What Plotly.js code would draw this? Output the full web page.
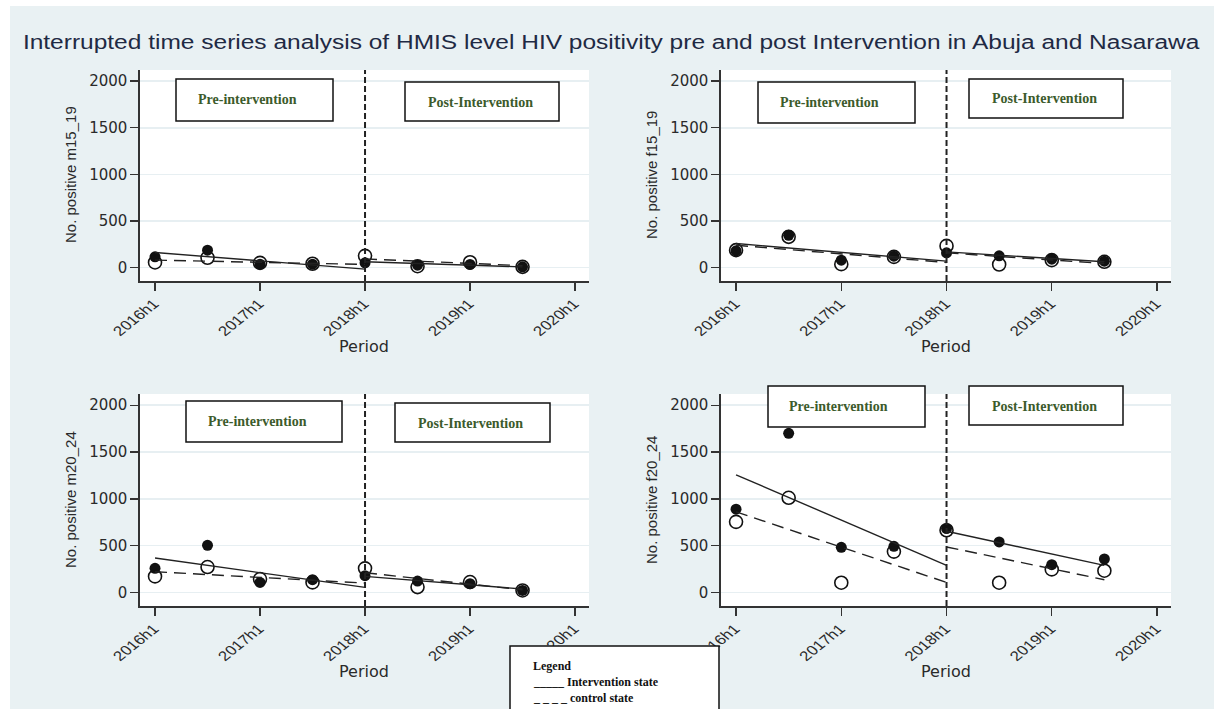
<!DOCTYPE html>
<html><head><meta charset="utf-8">
<script src="https://cdn.plot.ly/plotly-3.0.1.min.js"></script>
<style>html,body{margin:0;padding:0;background:#fff;}#chart{width:1214px;height:709px;}</style>
</head><body><div id="chart"></div>
<script>
// ---------- data ----------
const periods = [2016, 2016.5, 2017, 2017.5, 2018, 2018.5, 2019, 2019.5];
const periodLabels = ['2016h1','2016h2','2017h1','2017h2','2018h1','2018h2','2019h1','2019h2'];
const tickValues = [2016, 2017, 2018, 2019, 2020];
const tickLabels = ['2016h1','2017h1','2018h1','2019h1','2020h1'];
const yTickValues = [0, 500, 1000, 1500, 2000];
const interruptionPeriod = 2018;

const groups = ['m15_19', 'f15_19', 'm20_24', 'f20_24'];

// observed values (filled = intervention state, hollow = control state)
const m15_19_intervention = [114, 186, 36, 36, 50, 25, 32, 7];
const m15_19_control      = [54, 104, 50, 40, 125, 14, 57, 7];
const f15_19_intervention = [179, 346, 79, 121, 157, 125, 89, 68];
const f15_19_control      = [186, 329, 36, 114, 232, 32, 79, 61];
const m20_24_intervention = [257, 503, 107, 136, 179, 121, 93, 21];
const m20_24_control      = [171, 271, 143, 107, 257, 57, 111, 21];
const f20_24_intervention = [889, 1700, 482, 493, 682, 539, 296, 357];
const f20_24_control      = [754, 1011, 104, 436, 664, 104, 246, 232];

// fitted values: pre segment at [2016h1, 2018h1], post segment at [2018h1, 2019h2]
const m15_19_fitPreIntervention  = [161, -18];
const m15_19_fitPreControl       = [79, 33];
const m15_19_fitPostIntervention = [61, 7];
const m15_19_fitPostControl      = [92, 20];
const f15_19_fitPreIntervention  = [257, 68];
const f15_19_fitPreControl       = [239, 54];
const f15_19_fitPostIntervention = [168, 61];
const f15_19_fitPostControl      = [157, 43];
const m20_24_fitPreIntervention  = [368, 54];
const m20_24_fitPreControl       = [221, 100];
const m20_24_fitPostIntervention = [171, 36];
const m20_24_fitPostControl      = [210, 28];
const f20_24_fitPreIntervention  = [1257, 289];
const f20_24_fitPreControl       = [861, 107];
const f20_24_fitPostIntervention = [654, 289];
const f20_24_fitPostControl      = [486, 136];

const preFitX  = [periods[0], periods[4]];
const postFitX = [periods[4], periods[7]];

const seriesData = {
  m15_19: {inter: m15_19_intervention, ctrl: m15_19_control, preI: m15_19_fitPreIntervention, preC: m15_19_fitPreControl, postI: m15_19_fitPostIntervention, postC: m15_19_fitPostControl},
  f15_19: {inter: f15_19_intervention, ctrl: f15_19_control, preI: f15_19_fitPreIntervention, preC: f15_19_fitPreControl, postI: f15_19_fitPostIntervention, postC: f15_19_fitPostControl},
  m20_24: {inter: m20_24_intervention, ctrl: m20_24_control, preI: m20_24_fitPreIntervention, preC: m20_24_fitPreControl, postI: m20_24_fitPostIntervention, postC: m20_24_fitPostControl},
  f20_24: {inter: f20_24_intervention, ctrl: f20_24_control, preI: f20_24_fitPreIntervention, preC: f20_24_fitPreControl, postI: f20_24_fitPostIntervention, postC: f20_24_fitPostControl}
};

const chartTitle = 'Interrupted time series analysis of HMIS level HIV positivity pre and post Intervention in Abuja and Nasarawa';

// ---------- layout helpers ----------
const W = 1214, H = 709;
const px = v => v / W;
const py = v => 1 - v / H;

// plot areas in pixels [x0, x1, y0(top), y1(bottom)]
const panels = [
  {g: 'm15_19', ax: '',  box: [140, 589, 70, 281],
   pre: [176, 333, 79, 121, 247, 99], post: [405, 559, 82, 121, 480, 102], ytx: 70, yty: 175, ptx: 364, pty: 346},
  {g: 'f15_19', ax: '2', box: [721, 1171, 70, 281],
   pre: [758, 915, 82, 123, 829, 102], post: [969, 1123, 79, 118, 1044, 98], ytx: 651, yty: 175, ptx: 946, pty: 346},
  {g: 'm20_24', ax: '3', box: [140, 589, 394, 606],
   pre: [186, 342, 401, 442, 257, 421], post: [395, 550, 403, 442, 471, 423], ytx: 70, yty: 500, ptx: 364, pty: 671},
  {g: 'f20_24', ax: '4', box: [721, 1171, 394, 606],
   pre: [768, 925, 386, 427, 839, 406], post: [969, 1123, 386, 425, 1044, 406], ytx: 651, yty: 500, ptx: 946, pty: 671}
];

const traces = [];
const layout = {
  width: W, height: H,
  margin: {l: 0, r: 0, t: 0, b: 0},
  paper_bgcolor: '#e9f1f3',
  plot_bgcolor: '#ffffff',
  showlegend: false,
  shapes: [
    {type: 'rect', xref: 'paper', yref: 'paper', x0: 0, x1: 1, y0: py(6), y1: 1, fillcolor: '#ffffff', line: {width: 0}, layer: 'above'},
    {type: 'rect', xref: 'paper', yref: 'paper', x0: 0, x1: px(10), y0: 0, y1: 1, fillcolor: '#ffffff', line: {width: 0}, layer: 'above'}
  ],
  annotations: [
    {xref: 'paper', yref: 'paper', x: px(611), y: py(42), xanchor: 'center', yanchor: 'middle', showarrow: false,
     text: chartTitle, font: {family: 'Liberation Sans', size: 20, color: '#1f2a44'}}
  ]
};

const boxTextFont = {family: 'Liberation Serif', size: 14, color: '#3c5b2c'};

panels.forEach(p => {
  const d = seriesData[p.g];
  const xa = 'x' + p.ax, ya = 'y' + p.ax;
  // observed points
  traces.push({x: periods, y: d.inter, xaxis: xa, yaxis: ya, mode: 'markers', name: 'Intervention state', text: periodLabels,
    marker: {symbol: 'circle', size: 11, color: '#111'}});
  traces.push({x: periods, y: d.ctrl, xaxis: xa, yaxis: ya, mode: 'markers', name: 'control state', text: periodLabels,
    marker: {symbol: 'circle-open', size: 13, color: '#111', line: {width: 1.6, color: '#111'}}});
  // fitted lines
  traces.push({x: preFitX, y: d.preC, xaxis: xa, yaxis: ya, mode: 'lines', line: {color: '#222', width: 1.4, dash: '12px,7px'}, hoverinfo: 'skip'});
  traces.push({x: postFitX, y: d.postC, xaxis: xa, yaxis: ya, mode: 'lines', line: {color: '#222', width: 1.4, dash: '12px,7px'}, hoverinfo: 'skip'});
  traces.push({x: preFitX, y: d.preI, xaxis: xa, yaxis: ya, mode: 'lines', line: {color: '#222', width: 1.4}, hoverinfo: 'skip'});
  traces.push({x: postFitX, y: d.postI, xaxis: xa, yaxis: ya, mode: 'lines', line: {color: '#222', width: 1.4}, hoverinfo: 'skip'});

  const [bx0, bx1, by0, by1] = p.box;
  layout['xaxis' + p.ax] = {
    domain: [px(bx0), px(bx1)], anchor: ya, range: [2015.857, 2020.133],
    tickvals: tickValues, ticktext: tickLabels, tickangle: -45,
    ticks: 'outside', ticklen: 8, tickwidth: 1.4, tickcolor: '#333',
    showline: true, linecolor: '#333', linewidth: 1.6,
    showgrid: false, zeroline: false, fixedrange: true,
    tickfont: {family: 'Liberation Sans', size: 13.5, color: '#2a2a2a'}
  };
  layout['yaxis' + p.ax] = {
    domain: [py(by1), py(by0)], anchor: xa, range: [-145, 2120],
    tickvals: yTickValues, ticks: 'outside', ticklen: 8, tickwidth: 1.4, tickcolor: '#333',
    showline: true, linecolor: '#333', linewidth: 1.6,
    showgrid: true, gridcolor: '#e7eff2', gridwidth: 1.6, zeroline: false, fixedrange: true,
    tickfont: {family: 'DejaVu Sans', size: 15, color: '#2a2a2a'}
  };
  // interruption line
  layout.shapes.push({type: 'line', xref: xa, yref: ya + ' domain', x0: interruptionPeriod, x1: interruptionPeriod, y0: 0, y1: 1,
    line: {color: '#222', width: 2, dash: '6px,3px'}});
  // boxes
  [[p.pre, 'Pre-intervention'], [p.post, 'Post-Intervention']].forEach(([b, label]) => {
    layout.shapes.push({type: 'rect', xref: 'paper', yref: 'paper', x0: px(b[0]), x1: px(b[1]), y0: py(b[3]), y1: py(b[2]),
      fillcolor: '#ffffff', line: {color: '#111', width: 1.5}, layer: 'above'});
    layout.annotations.push({xref: 'paper', yref: 'paper', x: px(b[4]), y: py(b[5]), xanchor: 'center', yanchor: 'middle',
      showarrow: false, text: '<b>' + label + '</b>', font: boxTextFont});
  });
  // axis titles
  layout.annotations.push({xref: 'paper', yref: 'paper', x: px(p.ytx), y: py(p.yty), xanchor: 'center', yanchor: 'middle',
    showarrow: false, textangle: -90, text: 'No. positive ' + p.g, font: {family: 'Liberation Sans', size: 15, color: '#2a2a2a'}});
  layout.annotations.push({xref: 'paper', yref: 'paper', x: px(p.ptx), y: py(p.pty), xanchor: 'center', yanchor: 'middle',
    showarrow: false, text: 'Period', font: {family: 'DejaVu Sans', size: 16, color: '#2a2a2a'}});
});

// legend box
layout.shapes.push({type: 'rect', xref: 'paper', yref: 'paper', x0: px(510), x1: px(719), y0: py(712), y1: py(646),
  fillcolor: '#ffffff', line: {color: '#111', width: 1.5}, layer: 'above'});
const legendLines = ['Legend', '_____ Intervention state', '_ _ _ _ control state'];
const legendY = [666, 682, 698];
legendLines.forEach((t, i) => {
  layout.annotations.push({xref: 'paper', yref: 'paper', x: px(531), y: py(legendY[i]), xanchor: 'left', yanchor: 'middle',
    showarrow: false, text: '<b>' + t + '</b>', font: {family: 'Liberation Serif', size: 12, color: '#111'}});
});

// stretch an svg text element horizontally about a point given in its own coordinates
function stretchX(t, s, ax, ay) {
  const prev = t.getAttribute('transform') || '';
  let P = {x: ax, y: ay};
  const list = t.transform && t.transform.baseVal;
  if (list && list.numberOfItems) {
    const m = list.consolidate().matrix;
    P = {x: m.a * ax + m.c * ay + m.e, y: m.b * ax + m.d * ay + m.f};
  }
  t.setAttribute('transform', 'translate(' + P.x + ',' + P.y + ') scale(' + s + ',1) translate(' + (-P.x) + ',' + (-P.y) + ') ' + prev);
}

Plotly.newPlot('chart', traces, layout, {displayModeBar: false, staticPlot: true}).then(gd => {
  // the reference picture is horizontally stretched: widen the title to the same span
  gd.querySelectorAll('text.annotation-text').forEach(t => {
    if (t.textContent === chartTitle) {
      const bb = t.getBBox();
      stretchX(t, 1178 / bb.width, bb.x + bb.width / 2, bb.y + bb.height / 2);
    }
  });
  // rotated x tick labels: same horizontal stretch, anchored at the label end near the tick
  gd.querySelectorAll('.xaxislayer-above text, .x2axislayer-above text, .x3axislayer-above text, .x4axislayer-above text').forEach(t => {
    const x = parseFloat(t.getAttribute('x')) || 0;
    const y = parseFloat(t.getAttribute('y')) || 0;
    stretchX(t, 1.25, x, y);
  });
});
</script>
</body></html>
